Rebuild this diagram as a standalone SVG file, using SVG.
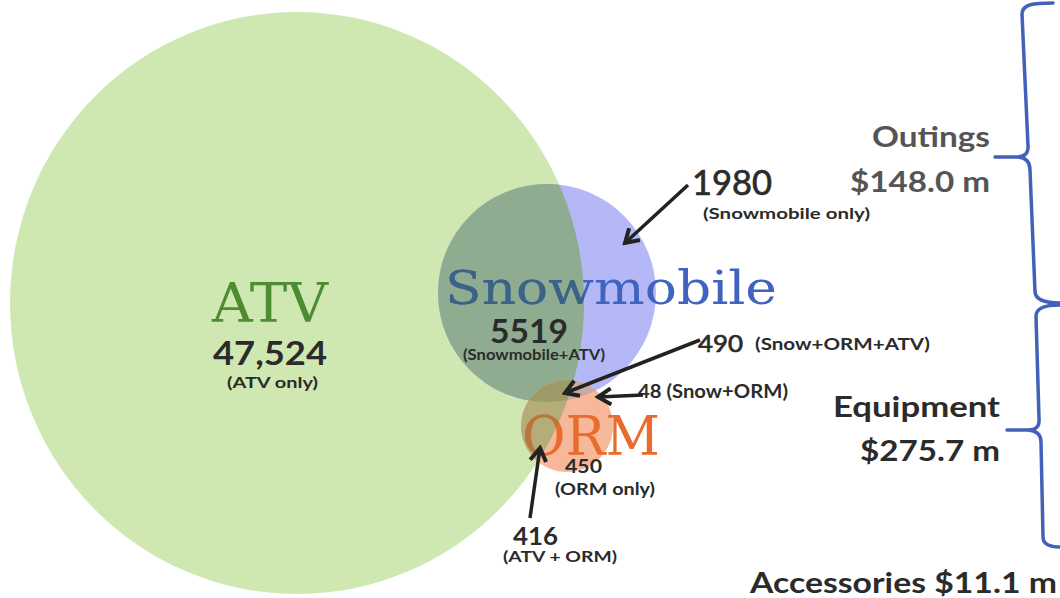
<svg xmlns="http://www.w3.org/2000/svg" width="1060" height="598" viewBox="0 0 1060 598">
  <style>
    .serif { font-family: "DejaVu Serif", "Liberation Serif", serif; }
    .sans { font-family: Lato, "Open Sans", "Liberation Sans", sans-serif; font-weight: 700; }
    .sansreg { font-family: Lato, "Open Sans", "Liberation Sans", sans-serif; font-weight: 400; stroke: #2b2b2b; stroke-width: 0.7; }
    .ink { fill: #2b2b2b; }
    .grey { fill: #555555; }
    .conn { stroke: #222222; stroke-width: 3.5; fill: none; marker-end: url(#arrow); }
    .brace { stroke: #4262b8; stroke-width: 3.5; fill: none; stroke-linecap: round; stroke-linejoin: round; }
  </style>
  <defs>
    <marker id="arrow" viewBox="0 0 20 20" markerWidth="20" markerHeight="20" refX="17" refY="10" orient="auto" markerUnits="userSpaceOnUse">
      <path d="M4,2 L17,10 L4,18" fill="none" stroke="#222222" stroke-width="4"/>
    </marker>
    <clipPath id="atvClip"><ellipse cx="297" cy="303" rx="287" ry="291"/></clipPath>
    <clipPath id="snowClip"><circle cx="547" cy="293" r="109"/></clipPath>
  </defs>

  <rect width="1060" height="598" fill="#ffffff"/>

  <!-- ATV set -->
  <g id="node-atv">
    <ellipse cx="297" cy="303" rx="287" ry="291" fill="#cfe8b2"/>
  </g>

  <!-- Snowmobile set, with its ATV overlap -->
  <g id="node-snowmobile">
    <circle cx="547" cy="293" r="109" fill="#b4b8f6"/>
    <circle cx="547" cy="293" r="109" fill="#8fab90" clip-path="url(#atvClip)"/>
  </g>

  <!-- ORM set, with overlaps -->
  <g id="node-orm">
    <circle cx="567" cy="426" r="46" fill="#f6b898"/>
    <circle cx="567" cy="426" r="46" fill="#b5ad79" clip-path="url(#atvClip)"/>
    <circle cx="567" cy="426" r="46" fill="#c9a9a4" clip-path="url(#snowClip)"/>
    <g clip-path="url(#atvClip)">
      <circle cx="567" cy="426" r="46" fill="#9e9a66" clip-path="url(#snowClip)"/>
    </g>
  </g>

  <!-- Set titles -->
  <g id="label-atv">
    <text class="serif" x="212" y="322" font-size="55" fill="#4e8c33" textLength="116" lengthAdjust="spacingAndGlyphs">ATV</text>
    <text class="sans ink" x="213" y="365" font-size="32" textLength="114" lengthAdjust="spacingAndGlyphs">47,524</text>
    <text class="sans ink" x="227" y="388" font-size="16" textLength="91" lengthAdjust="spacingAndGlyphs">(ATV only)</text>
  </g>

  <g id="label-snowmobile">
    <text class="serif" x="445" y="304" font-size="47" fill="#4163c0" textLength="332" lengthAdjust="spacingAndGlyphs">Snowmobile</text>
    <text class="serif" x="445" y="304" font-size="47" fill="#3b6385" textLength="332" lengthAdjust="spacingAndGlyphs" clip-path="url(#atvClip)">Snowmobile</text>
    <text class="sans ink" x="490" y="343" font-size="32" textLength="78" lengthAdjust="spacingAndGlyphs">5519</text>
    <text class="sans ink" x="463" y="360" font-size="15" textLength="142" lengthAdjust="spacingAndGlyphs">(Snowmobile+ATV)</text>
  </g>

  <g id="label-orm">
    <text class="serif" x="522" y="455" font-size="54" fill="#ea6b2e" textLength="138" lengthAdjust="spacingAndGlyphs">ORM</text>
    <text class="serif" x="522" y="455" font-size="54" fill="#b9773b" textLength="138" lengthAdjust="spacingAndGlyphs" clip-path="url(#atvClip)">ORM</text>
    <text class="sans ink" x="565" y="473" font-size="19" textLength="37" lengthAdjust="spacingAndGlyphs">450</text>
    <text class="sans ink" x="555" y="495" font-size="17" textLength="100" lengthAdjust="spacingAndGlyphs">(ORM only)</text>
  </g>

  <!-- Callout labels -->
  <g id="label-snow-only">
    <text class="sansreg ink" x="692" y="195" font-size="35" textLength="80" lengthAdjust="spacingAndGlyphs">1980</text>
    <text class="sans ink" x="703" y="219" font-size="15" textLength="167" lengthAdjust="spacingAndGlyphs">(Snowmobile only)</text>
  </g>
  <g id="label-all-three">
    <text class="sansreg ink" x="698" y="352" font-size="24" textLength="45" lengthAdjust="spacingAndGlyphs">490</text>
    <text class="sans ink" x="755" y="350" font-size="17" textLength="175" lengthAdjust="spacingAndGlyphs">(Snow+ORM+ATV)</text>
  </g>
  <g id="label-snow-orm">
    <text class="sans ink" x="638" y="398" font-size="18" textLength="150" lengthAdjust="spacingAndGlyphs">48 (Snow+ORM)</text>
  </g>
  <g id="label-atv-orm">
    <text class="sans ink" x="513" y="545" font-size="24" textLength="45" lengthAdjust="spacingAndGlyphs">416</text>
    <text class="sans ink" x="503" y="562" font-size="16" textLength="114" lengthAdjust="spacingAndGlyphs">(ATV + ORM)</text>
  </g>

  <!-- Callout arrows -->
  <g id="connectors">
    <line class="conn" x1="688" y1="185" x2="625" y2="243"/>
    <line class="conn" x1="700" y1="340" x2="565" y2="393"/>
    <line class="conn" x1="643" y1="395" x2="598" y2="397"/>
    <line class="conn" x1="530" y1="518" x2="540" y2="448"/>
  </g>

  <!-- Spending braces -->
  <g id="braces">
    <path class="brace" d="M1053,3 C1034,3 1022,4 1022,14 L1028,146 Q1029,156 1018,157 L995,157 M1018,157 Q1030,158 1030,170 L1035,292 Q1036,303 1060,303"/>
    <path class="brace" d="M1060,305 Q1036,305 1036,316 L1039,419 Q1040,430 1028,430 L1007,430 M1028,430 Q1041,431 1041,442 L1043,537 Q1043,547 1060,547"/>
  </g>

  <g id="label-outings">
    <text class="sans grey" x="872" y="147" font-size="28" textLength="118" lengthAdjust="spacingAndGlyphs">Outings</text>
    <text class="sans grey" x="850" y="192" font-size="28" textLength="140" lengthAdjust="spacingAndGlyphs">$148.0 m</text>
  </g>
  <g id="label-equipment">
    <text class="sans ink" x="833" y="417" font-size="29" textLength="167" lengthAdjust="spacingAndGlyphs">Equipment</text>
    <text class="sans ink" x="860" y="461" font-size="29" textLength="140" lengthAdjust="spacingAndGlyphs">$275.7 m</text>
  </g>
  <g id="label-accessories">
    <text class="sans ink" x="750" y="593" font-size="28" textLength="307" lengthAdjust="spacingAndGlyphs">Accessories $11.1 m</text>
  </g>
</svg>
